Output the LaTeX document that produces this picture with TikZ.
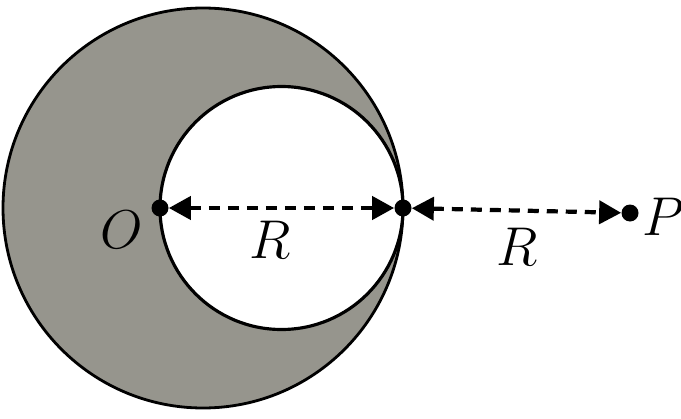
\documentclass[tikz,border=0pt]{standalone}
\usetikzlibrary{arrows.meta}
\definecolor{shellgray}{RGB}{150,149,141}
\tikzset{
  dot/.style={circle, fill=black, inner sep=0pt, minimum size=0.34cm},
  rarrow/.style={{Triangle[length=0.44cm,width=0.46cm]}-{Triangle[length=0.44cm,width=0.46cm]},
    line width=2.4pt, dash pattern=on 0.22cm off 0.16cm},
  lbl/.style={font=\Huge, scale=1.25}
}
\begin{document}
\begin{tikzpicture}
  \useasboundingbox (0,0) rectangle (13.62,8.36);
  % Define sphere and cavity
  \coordinate (C) at (4.06,4.2); \coordinate (c) at (5.63,4.2);
  \fill[shellgray, even odd rule] (C) circle (4.0) (c) circle (2.43);
  \draw[line width=1.6pt] (C) circle (4.0);
  \draw[line width=1.8pt] (c) circle (2.43);

  % Define node positions
  \node[dot] (O) at (3.2,4.2) {}; \node[dot] (M) at (8.06,4.2) {};
  \node[dot] (P) at (12.6,4.1) {};

  % Draw arrows
  \draw[rarrow] (O) -- (M);
  \draw[rarrow] (M) -- (P);

  % Labels
  \node[lbl] (lO) at (2.44,3.76) {$O$};
  \node[lbl] (lR1) at (5.4,3.56) {$R$};
  \node[lbl] (lR2) at (10.34,3.42) {$R$};
  \node[lbl] (lP) at (13.26,4.02) {$P$};
\end{tikzpicture}
\end{document}
